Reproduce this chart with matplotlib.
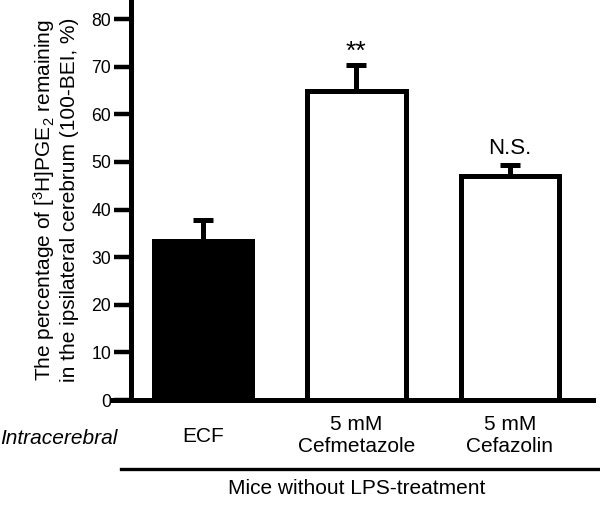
import matplotlib
matplotlib.use("Agg")
import matplotlib.pyplot as plt
from matplotlib.lines import Line2D

plt.rcParams['font.family'] = ['Liberation Sans', 'DejaVu Sans']
plt.rcParams['mathtext.fontset'] = 'custom'
plt.rcParams['mathtext.rm'] = 'Liberation Sans'
plt.rcParams['mathtext.it'] = 'Liberation Sans:italic'

# data
groups = ['ECF', '5 mM\nCefmetazole', '5 mM\nCefazolin']
means = [33.4, 64.8, 47.1]
sem = [4.5, 5.6, 2.3]
fills = ['black', 'white', 'white']
marks = ['', '**', 'N.S.']
yticks = [0, 10, 20, 30, 40, 50, 60, 70, 80]

fig = plt.figure(figsize=(6.0, 5.09), dpi=100)
ax = fig.add_axes([0.218, 0.214, 0.77, 0.786])

x = list(range(len(groups)))
ax.bar(x, means, width=0.64, color=fills, edgecolor='black', linewidth=3.6, zorder=2)
ax.errorbar(x, means, yerr=[[0] * len(sem), sem], fmt='none', ecolor='black',
            elinewidth=3.6, capsize=7, capthick=3.6, zorder=1)

# significance marks above the error bars
mark_size = {'**': 19, 'N.S.': 16}
mark_gap = {'**': 0.2, 'N.S.': 1.2}
for xi, m, s, t in zip(x, means, sem, marks):
    if t:
        ax.text(xi, m + s + mark_gap[t], t, ha='center', va='bottom',
                fontsize=mark_size[t])

ax.set_xlim(-0.47, 2.54)
ax.set_ylim(0, 84)
ax.set_yticks(yticks)
ax.set_xticks([])
ax.tick_params(axis='y', length=12, width=3.2, labelsize=12.7, pad=2)
for side in ['top', 'right']:
    ax.spines[side].set_visible(False)
ax.spines['left'].set_linewidth(3.6)
ax.spines['bottom'].set_linewidth(3.6)
ax.spines['bottom'].set_bounds(-0.59, 2.54)
ax.spines['bottom'].set_clip_on(False)

ax.set_ylabel('The percentage of [$^{3}$H]PGE$_{2}$ remaining\n'
              'in the ipsilateral cerebrum (100-BEI, %)', fontsize=15, labelpad=9)

# category labels under the axis
for xi, g in zip(x, groups):
    fig.text(ax.transData.transform((xi, 0))[0] / 600, 1 - 436 / 509, g,
             ha='center', va='center', fontsize=15)
fig.text(0.0, 1 - 438 / 509, 'Intracerebral', ha='left', va='center',
         fontsize=15, style='italic')

fig.add_artist(Line2D([121 / 600, 1.0], [1 - 469 / 509, 1 - 469 / 509],
                      color='black', linewidth=2.4))
fig.text(357 / 600, 1 - 489 / 509, 'Mice without LPS-treatment',
         ha='center', va='center', fontsize=15)

fig.savefig('out.png', dpi=100)
